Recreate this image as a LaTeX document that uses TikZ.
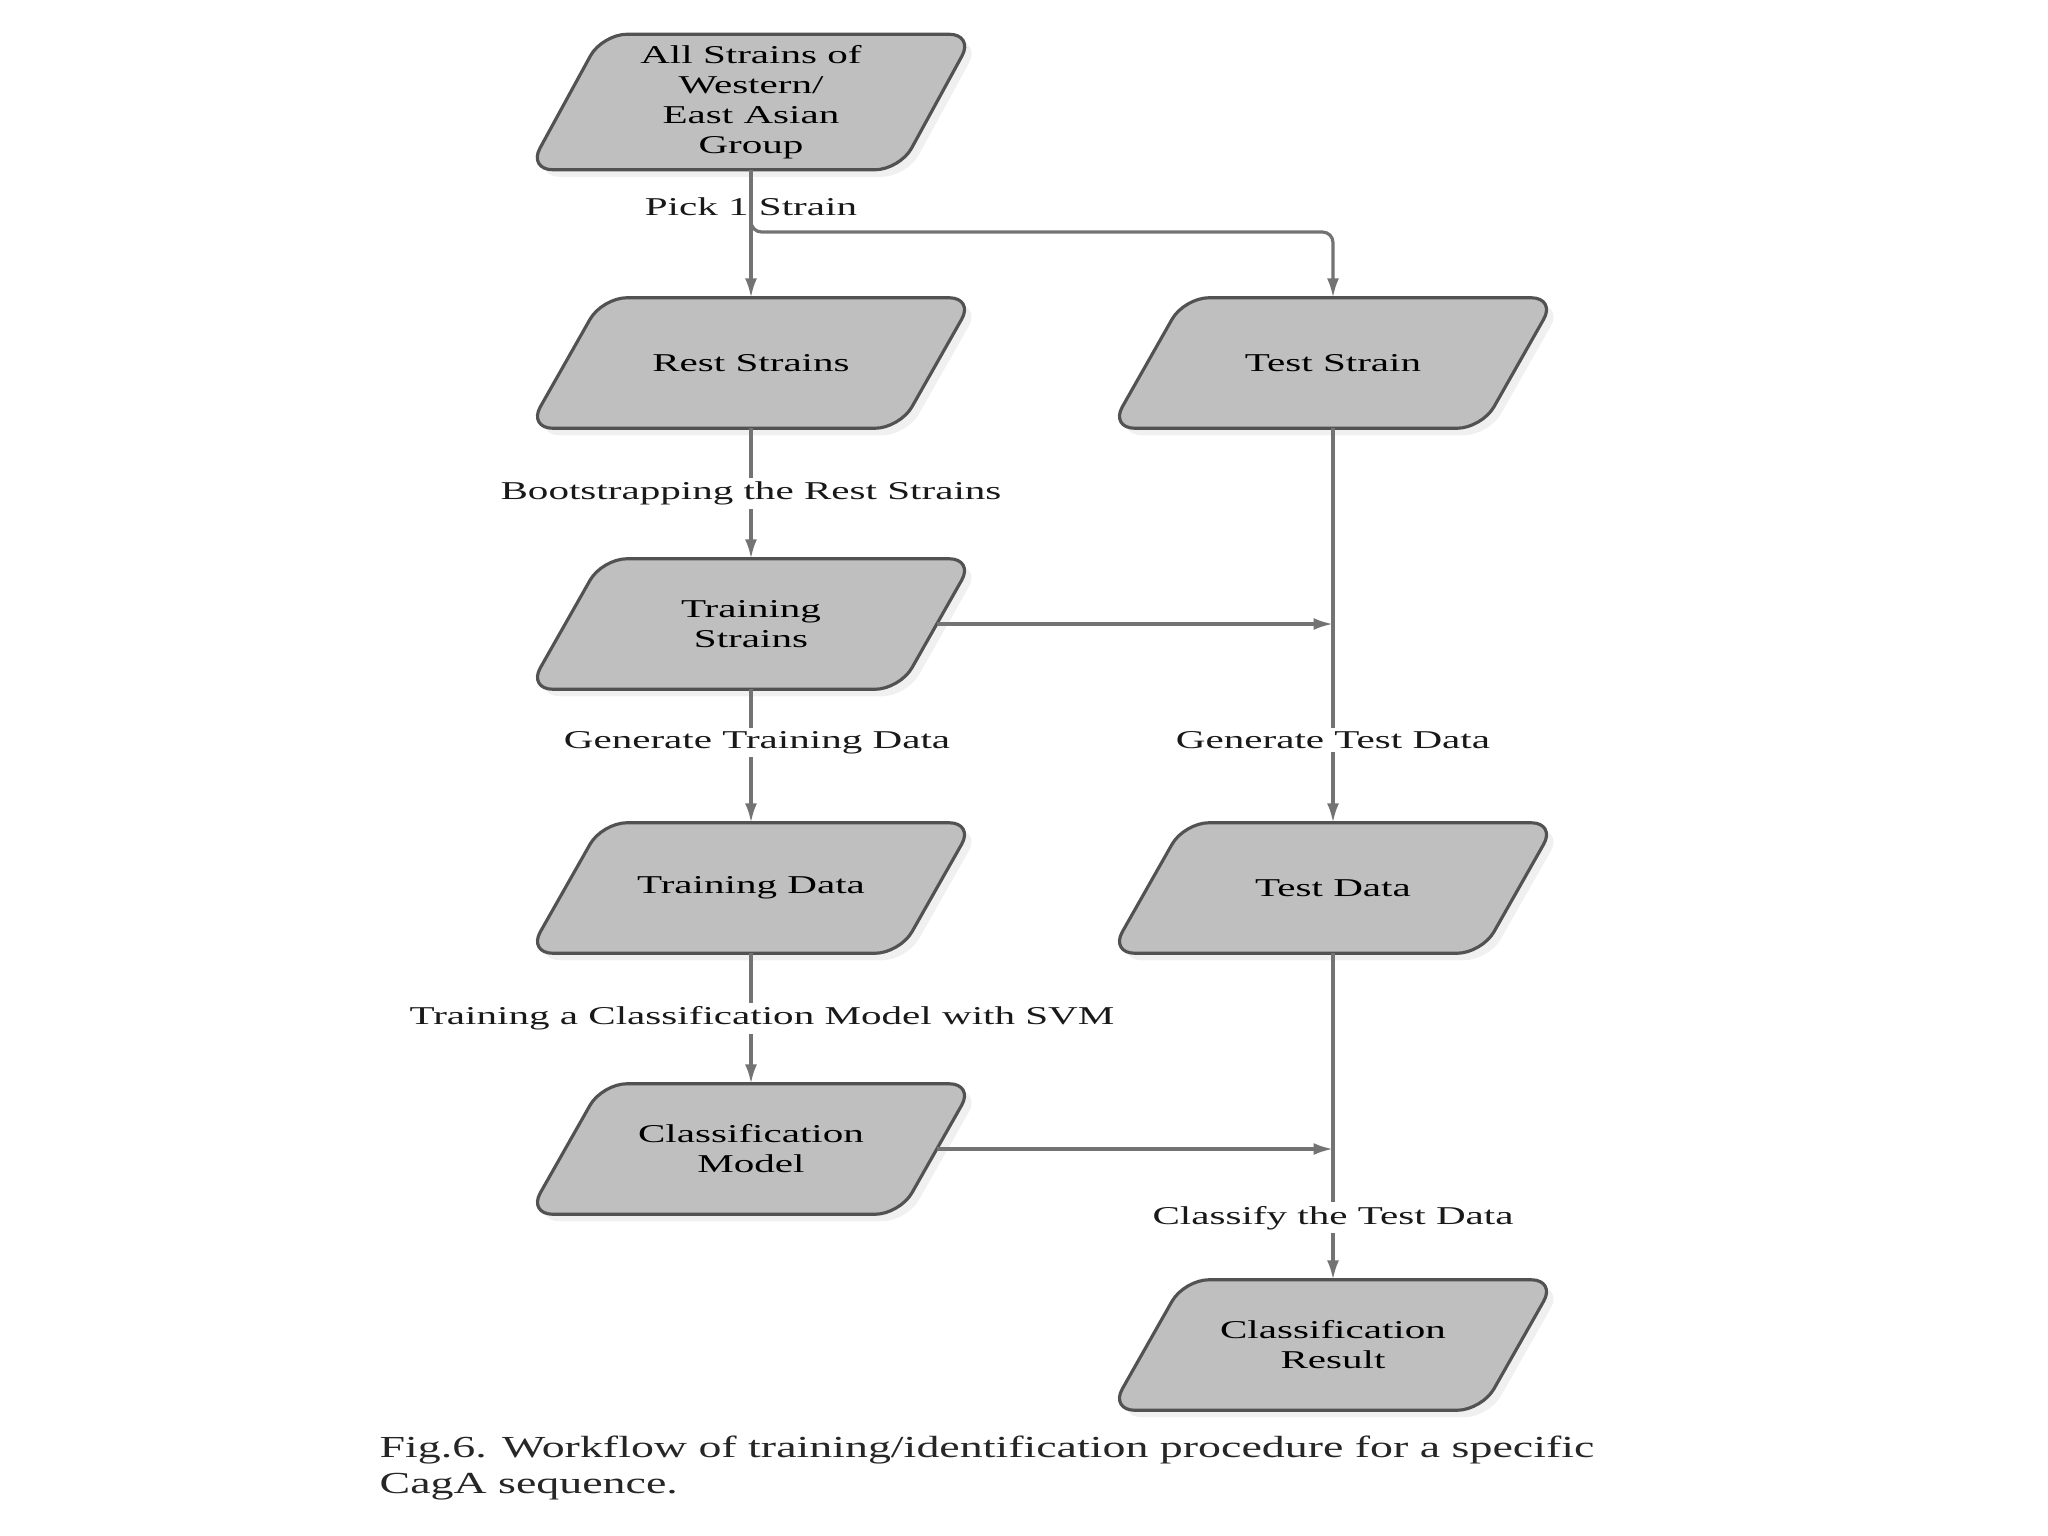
\documentclass[tikz,border=0pt]{standalone}
\usepackage{fontspec}
\setmainfont{Liberation Serif}
\newfontfamily\nodefont{Liberation Serif}[FakeStretch=1.6]
\newfontfamily\capfont{Liberation Serif}[FakeStretch=1.5]
\usetikzlibrary{arrows.meta,shadows}
\pgfdeclarelayer{background}
\pgfsetlayers{background,main}
\begin{document}
\begin{tikzpicture}[x=0.01cm,y=-0.01cm,
  para/.style={rectangle, minimum width=3.7cm, minimum height=1.29cm,
    align=center, inner sep=0pt, font=\nodefont\fontsize{7.3}{8.5}\selectfont, text=black},
  parashape/.style={draw=black!68, fill=black!25, line width=0.9pt, rounded corners=7pt,
    drop shadow={opacity=0.12, shadow xshift=2pt, shadow yshift=-2pt}},
  lbl/.style={fill=white, inner sep=1pt, font=\nodefont\fontsize{7.3}{8.5}\selectfont, text=black!90},
  conn/.style={draw=black!55, line width=0.9pt, -{Latex[length=5.5pt,width=3.4pt]}},
]
\useasboundingbox (0,0) rectangle (2048,1536);
\node[para, minimum height=1.34cm] (all) at (751,102) {All Strains of\\Western/\\East Asian\\Group};
\node[para] (rest) at (751,363) {Rest Strains};
\node[para] (test) at (1333,363) {Test Strain};
\node[para] (trs) at (751,624) {Training\\Strains};
\node[para] (trd) at (751,888) {Training Data};
\node[para] (tdata) at (1333,888) {Test Data};
\node[para] (model) at (751,1149) {Classification\\Model};
\node[para] (res) at (1333,1345) {Classification\\Result};

\begin{pgfonlayer}{background}
\foreach \n in {all,rest,test,trs,trd,tdata,model,res}
  \draw[parashape] ([xshift=-0.37cm]\n.south west) -- ([xshift=0.37cm]\n.north west)
    -- ([xshift=0.37cm]\n.north east) -- ([xshift=-0.37cm]\n.south east) -- cycle;
\end{pgfonlayer}

\draw[conn] (all) -- node[lbl, pos=0.29, fill=none]{Pick 1 Strain} (rest);
\coordinate (br) at (751,219);
\coordinate (tc) at (1333,232);
\draw[conn, rounded corners=3pt] (br) |- (tc) -- (test);
\draw[conn] (rest) -- node[lbl, pos=0.5]{Bootstrapping the Rest Strains} (trs);
\draw[conn] (trs) -- node[lbl, pos=0.4, xshift=0.06cm]{Generate Training Data} (trd);
\draw[conn] (trd) -- node[lbl, pos=0.5, xshift=0.11cm]{Training a Classification Model with SVM} (model);
\draw[conn] (test) -- node[lbl, pos=0.79]{Generate Test Data} (tdata);
\draw[conn] (tdata) -- node[lbl, pos=0.81]{Classify the Test Data} (res);
\draw[conn] (trs.east) -- (trs.east -| test.south);
\draw[conn] (model.east) -- (model.east -| tdata.south);

\node[anchor=west, align=left, inner sep=0pt, font=\capfont\fontsize{8.7}{10.4}\selectfont, text=black!85] (cap) at (379,1468)
  {Fig.6. Workflow of training/identification procedure for a specific\\CagA sequence.};
\end{tikzpicture}
\end{document}
